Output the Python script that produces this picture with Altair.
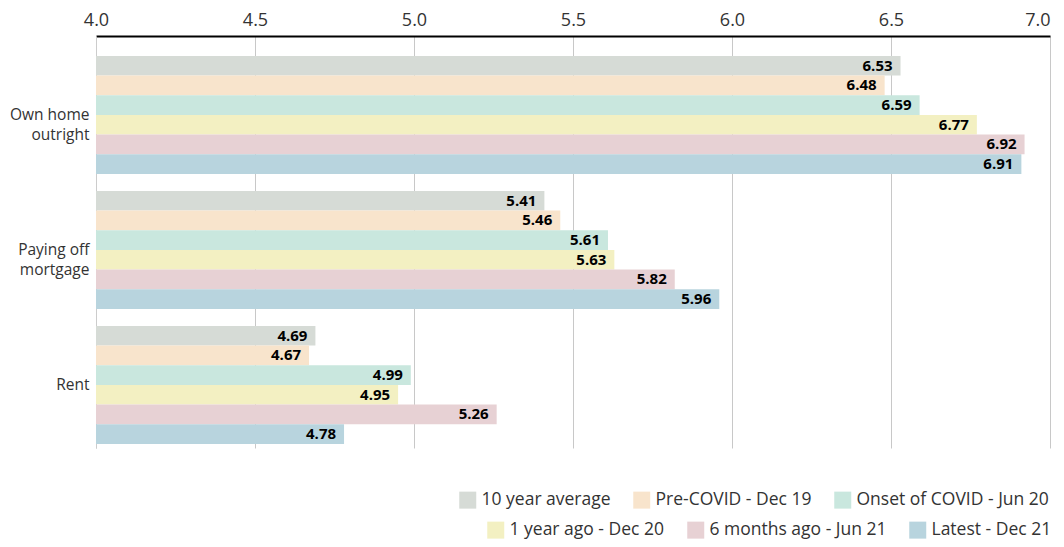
import altair as alt
import pandas as pd

categories = ["Own home outright", "Paying off mortgage", "Rent"]
series = ["10 year average", "Pre-COVID - Dec 19", "Onset of COVID - Jun 20",
          "1 year ago - Dec 20", "6 months ago - Jun 21", "Latest - Dec 21"]
colors = ["#d6dbd6", "#f8e4cc", "#c9e7de", "#f3f0c2", "#e7d1d4", "#b8d4de"]
own_home = [6.53, 6.48, 6.59, 6.77, 6.92, 6.91]
mortgage = [5.41, 5.46, 5.61, 5.63, 5.82, 5.96]
rent = [4.69, 4.67, 4.99, 4.95, 5.26, 4.78]
x_ticks = [4.0, 4.5, 5.0, 5.5, 6.0, 6.5, 7.0]

rows = []
for cat, vals in zip(categories, [own_home, mortgage, rent]):
    for s, v in zip(series, vals):
        rows.append({"category": cat, "series": s, "value": v})
df = pd.DataFrame(rows)

FONT = "Open Sans"

y_enc = alt.Y("category:N", sort=categories, title=None,
              scale=alt.Scale(paddingInner=0.126, paddingOuter=0.089, align=0.83),
              axis=alt.Axis(labelExpr="datum.label == 'Own home outright' ? ['Own home','outright'] : datum.label == 'Paying off mortgage' ? ['Paying off','mortgage'] : datum.label",
                            labelFontSize=15.5, labelColor="#333333", labelFont=FONT,
                            ticks=False, domainColor="#cccccc", domainWidth=1,
                            labelPadding=7, labelLineHeight=20, grid=False))
yoff_enc = alt.YOffset("series:N", sort=series,
                       scale=alt.Scale(domain=series, paddingInner=0, paddingOuter=0))
x_enc = alt.X("value:Q", title=None,
              scale=alt.Scale(domain=[4, 7], zero=False, nice=False),
              axis=alt.Axis(orient="top", values=x_ticks, format=".1f",
                            labelAlign={"condition": {"test": "datum.value >= 7", "value": "right"},
                                        "value": "center"},
                            labelFontSize=18, labelColor="#333333", labelFont=FONT,
                            ticks=False, domainColor="#000000", domainWidth=2,
                            grid=True, gridColor="#c8c8c8", gridWidth=1,
                            labelPadding=7, labelFlush=False))

base = alt.Chart(df)

def bar_layer(sub, cols, lx, ly):
    return base.transform_filter(
        alt.FieldOneOfPredicate(field="series", oneOf=sub)
    ).mark_bar().encode(
        y=y_enc, yOffset=yoff_enc, x=x_enc, x2=alt.datum(4),
        color=alt.Color("series:N", sort=sub,
                        scale=alt.Scale(domain=sub, range=cols),
                        legend=alt.Legend(title=None, orient="none", direction="horizontal",
                                          legendX=lx, legendY=ly))
    )

bars1 = bar_layer(series[:3], colors[:3], 363, 455)
bars2 = bar_layer(series[3:], colors[3:], 391, 485)

labels = base.mark_text(align="right", baseline="middle", dx=-8, fontWeight="bold",
                        fontSize=15, font=FONT, color="#000000").encode(
    y=y_enc, yOffset=yoff_enc, x=x_enc, text=alt.Text("value:Q", format=".2f"))

chart = alt.layer(bars1, bars2, labels).resolve_scale(color="independent").properties(
    width=954, height=412,
    autosize=alt.AutoSizeParams(type="none"),
    padding={"left": 88, "top": 28, "right": 6, "bottom": 91},
).configure_view(stroke=None).configure_legend(
    symbolType="square", symbolSize=289, labelFontSize=17.5, labelColor="#333333",
    labelFont=FONT, columnPadding=22, symbolStrokeWidth=0, labelOffset=5,
    symbolOpacity=1, labelLimit=500,
)

chart.save("out.html", embed_options={"renderer": "svg", "actions": False})
